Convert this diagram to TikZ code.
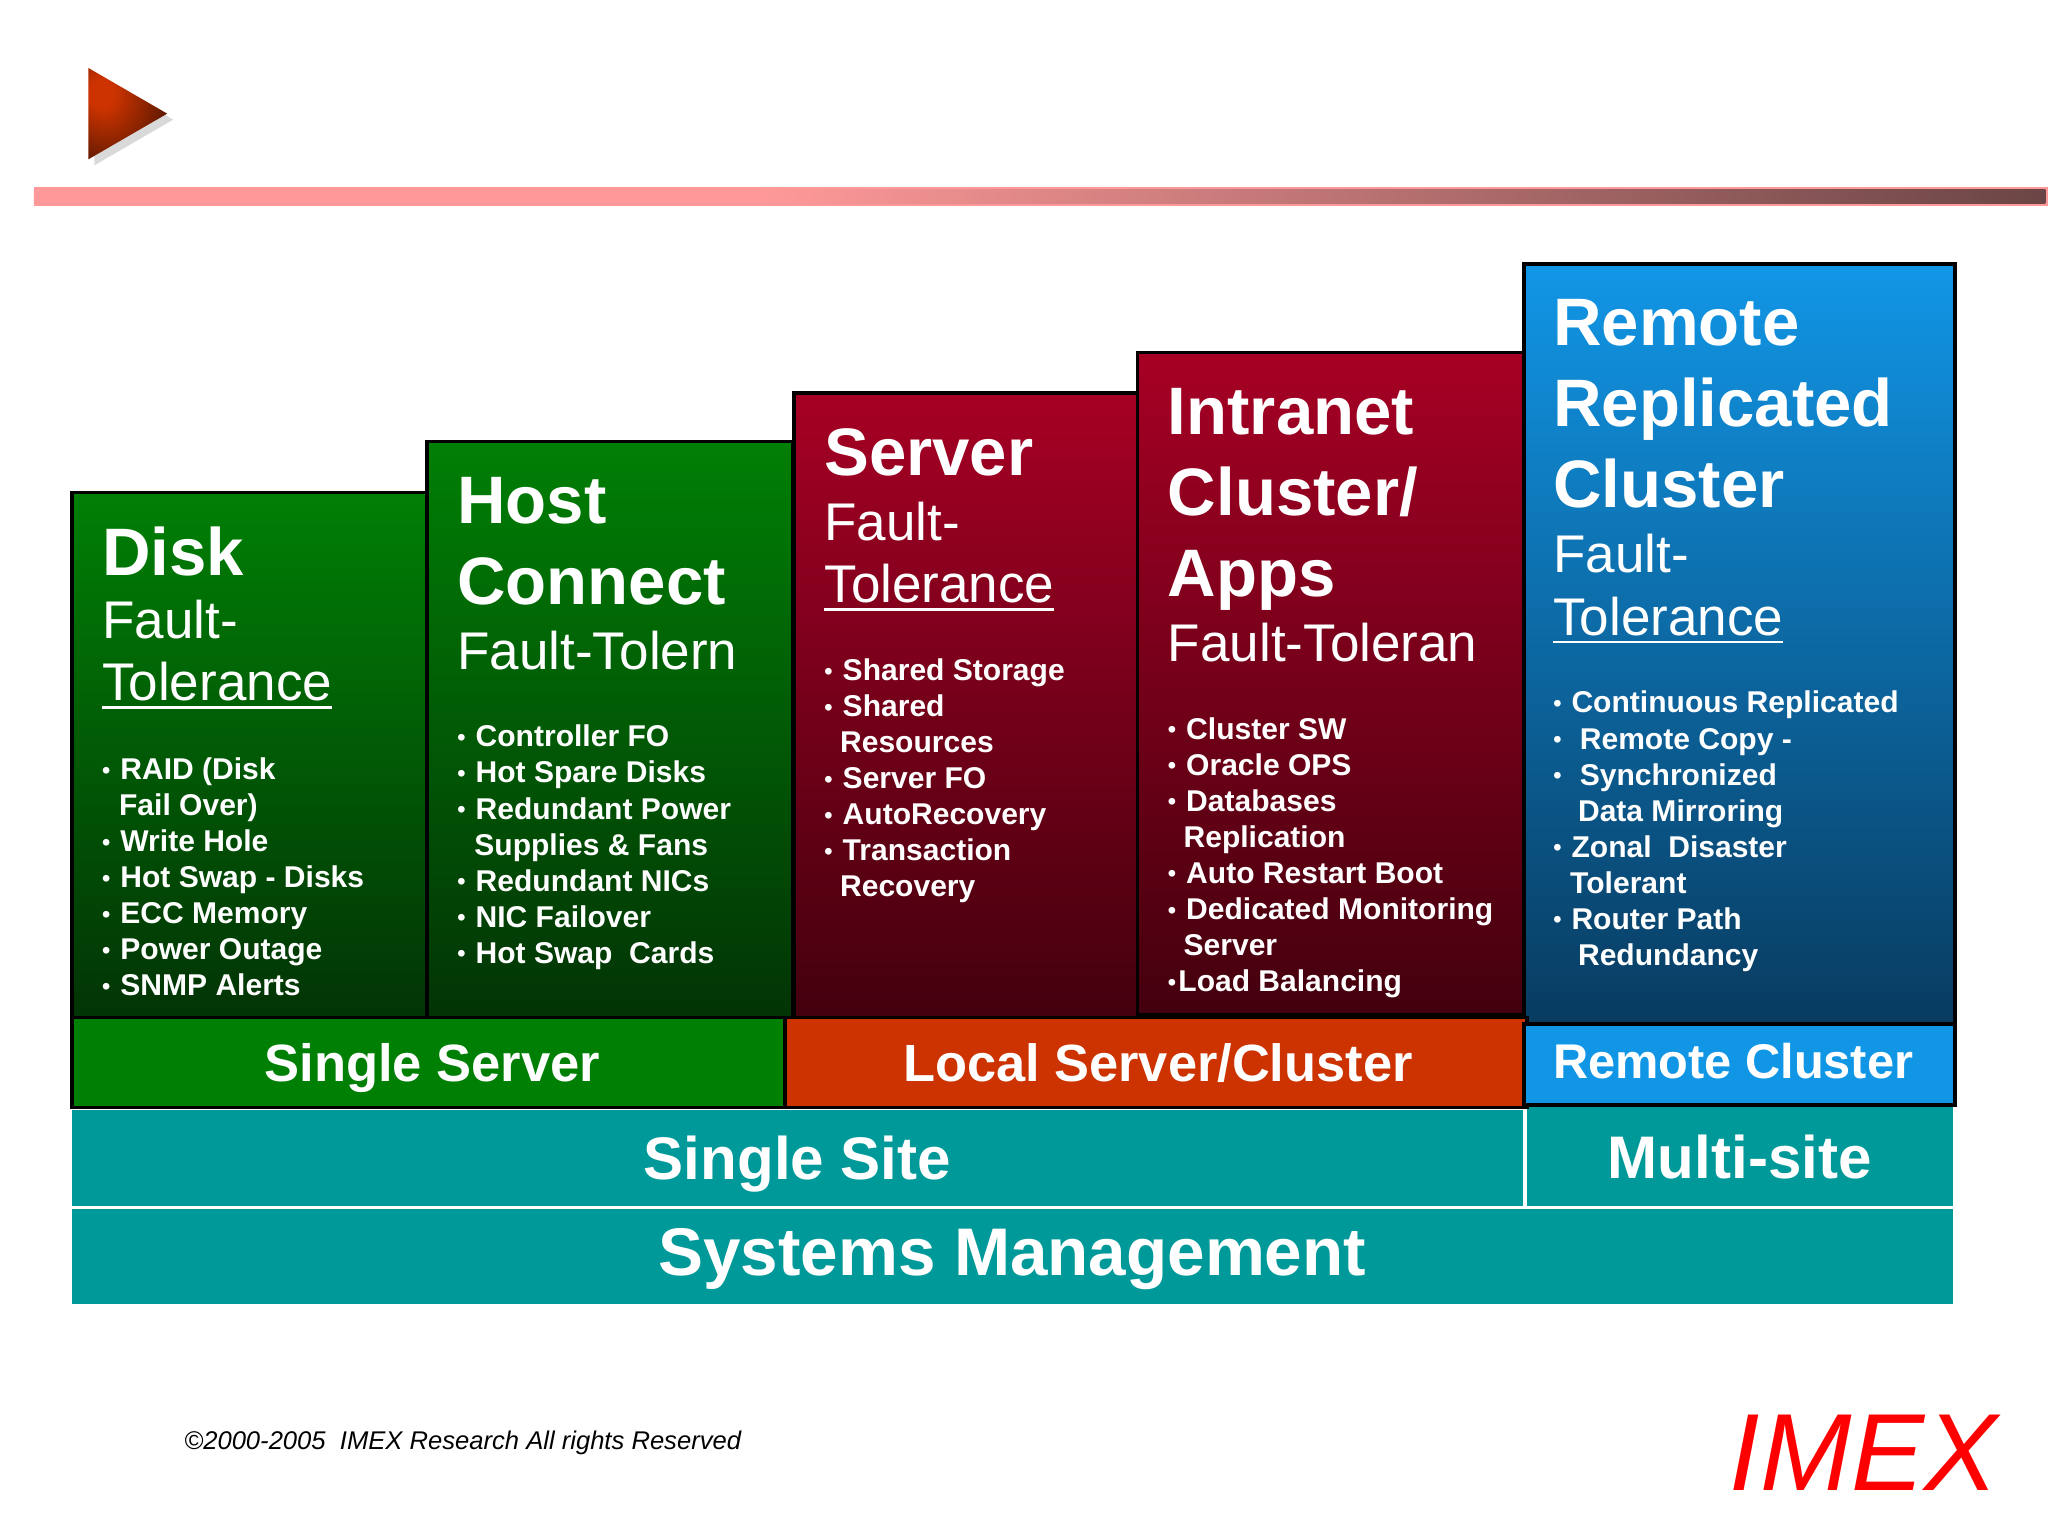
\documentclass[tikz,border=0pt]{standalone}
\usepackage{fontspec}
\setmainfont{Liberation Sans}
\usepackage{tikz}
\usetikzlibrary{positioning,calc}

\definecolor{greentop}{HTML}{007F05}
\definecolor{greenlow}{HTML}{023405}
\definecolor{redtop}{HTML}{A60024}
\definecolor{redlow}{HTML}{43000E}
\definecolor{bluetop}{HTML}{1196E6}
\definecolor{bluelow}{HTML}{083B60}
\definecolor{orangeband}{HTML}{CC3300}
\definecolor{tealband}{HTML}{009999}
\definecolor{barpink}{HTML}{FF9999}
\definecolor{bardark}{HTML}{6B4545}
\definecolor{arrowhi}{HTML}{CC3300}
\definecolor{arrowlo}{HTML}{5A1800}

\pgfdeclarehorizontalshading{barshade}{100bp}{color(0bp)=(barpink);color(25bp)=(barpink);color(43bp)=(barpink);color(75bp)=(bardark);color(100bp)=(bardark)}
\pgfdeclareradialshading{arrowglow}{\pgfpoint{-18bp}{12bp}}{color(0bp)=(arrowhi);color(8bp)=(arrowhi);color(38bp)=(arrowlo);color(100bp)=(arrowlo)}

\newcommand{\blt}{\raisebox{1pt}{\fontsize{18}{18}\selectfont\textbullet}}
\newcommand{\bul}{\makebox[14pt][l]{\blt}}
\newcommand{\rul}[1]{\setbox0=\hbox{#1}\rlap{\rule[-6pt]{\wd0}{2pt}}\box0}

\begin{document}
\begin{tikzpicture}[x=1pt,y=-1pt,
		tier/.style={draw=black,line width=2.8pt,inner sep=0pt,outer sep=0pt,anchor=north west},
		greentier/.style={tier,top color=greentop,bottom color=greenlow},
		redtier/.style={tier,top color=redtop,bottom color=redlow},
		bluetier/.style={tier,top color=bluetop,bottom color=bluelow},
		bandtxt/.style={text=white,inner sep=0pt,outer sep=0pt,anchor=north west,
			font=\fontsize{#1}{#1}\bfseries\selectfont,text height={#1pt*0.72},text depth=0pt},
		band/.style={bandtxt=#1,draw=black,line width=2.8pt},
		teal/.style={bandtxt=#1,fill=tealband},
		title/.style={text=white,inner sep=0pt,anchor=north west,align=left,
			font=\fontsize{51.4}{62}\bfseries\selectfont},
		sub/.style={text=white,inner sep=0pt,anchor=north west,align=left,
			font=\fontsize{40.6}{48}\selectfont},
		items/.style={text=white,inner sep=0pt,anchor=north west,align=left,
			font=\fontsize{23}{27.6}\bfseries\selectfont}]
	\useasboundingbox (0,0) rectangle (1568,1176);
	% header
	\fill [black!15] (72.2,56.6) -- (132.6,91.6) -- (72.2,126.6) -- cycle;
	\shade [shading=arrowglow] (67.6,52) -- (128,87) -- (67.6,122) -- cycle;
	\fill [barpink] (26,143) rectangle (1568,158);
	\shade [shading=barshade] (26,145) rectangle (1566,156);
	% columns
	\path (55,377)   node (disk)   [greentier,minimum width=272pt,minimum height=402pt] {}
	      (327,338)  node (host)   [greentier,minimum width=280pt,minimum height=441pt] {}
	      (608,301)  node (server) [redtier,minimum width=263pt,minimum height=478pt] {}
	      (871,270)  node (intra)  [redtier,minimum width=296pt,minimum height=507pt] {}
	      (1167,202) node (remote) [bluetier,minimum width=330pt,minimum height=582pt] {};
	% bottom bands
	\path (55,850)   node (sitea)  [teal=46,minimum width=1111pt,minimum height=73pt] {Single Site}
	      (1169,846) node (siteb)  [teal=46,text height=36pt,minimum width=326pt,minimum height=77pt] {Multi-site}
	      (55,926)   node (sysm)   [teal=51.6,text depth=8pt,minimum width=1440pt,minimum height=72pt] {Systems Management}
	      (55,779)   node (single) [band=40.2,fill=greentop,minimum width=546pt,minimum height=69pt] {\hspace{6pt}Single Server}
	      (601,779)  node (local)  [band=40.1,fill=orangeband,minimum width=568pt,minimum height=69pt] {\hspace{3pt}Local Server/Cluster}
	      (1167,784) node (rclus)  [band=37.3,fill=bluetop,text depth=6pt,minimum width=330pt,minimum height=62pt] {\hspace{-10pt}Remote Cluster};
	% column texts
	\path (78,403) node (disktitle) [title] {Disk}
	      (78,459) node (disksub)   [sub] {Fault-\\\rul{Tolerance}}
	      (78,580) node (disklist)  [items] {\bul RAID (Disk\\\hspace{13pt}Fail Over)\\\bul Write Hole\\\bul Hot Swap - Disks\\\bul ECC Memory\\\bul Power Outage\\\bul SNMP Alerts};
	\path (350,365) node (hosttitle) [title] {Host\\Connect}
	      (350,483) node (hostsub)   [sub] {Fault-Tolern}
	      (350,555) node (hostlist)  [items] {\bul Controller FO\\\bul Hot Spare Disks\\\bul Redundant Power\\\hspace{13pt}Supplies \& Fans\\\bul Redundant NICs\\\bul NIC Failover\\\bul Hot Swap\ \ Cards};
	\path (631,328) node (servertitle) [title] {Server}
	      (631,384) node (serversub)   [sub] {Fault-\\\rul{Tolerance}}
	      (631,504) node (serverlist)  [items] {\bul Shared Storage\\\bul Shared\\\hspace{12pt}Resources\\\bul Server FO\\\bul AutoRecovery\\\bul Transaction\\\hspace{12pt}Recovery};
	\path (894,297) node (intratitle) [title] {Intranet\\Cluster/\\Apps}
	      (894,477) node (intrasub)   [sub] {Fault-Toleran}
	      (894,549) node (intralist)  [items] {\bul Cluster SW\\\bul Oracle OPS\\\bul Databases\\\hspace{12pt}Replication\\\bul Auto Restart Boot\\\bul Dedicated Monitoring\\\hspace{12pt}Server\\\makebox[8pt][l]{\blt}Load Balancing};
	\path (1189,229) node (remotetitle) [title] {Remote\\Replicated\\Cluster}
	      (1189,409) node (remotesub)   [sub] {Fault-\\\rul{Tolerance}}
	      (1189,529) node (remotelist)  [items] {\bul Continuous Replicated\\\bul\ Remote Copy -\\\bul\ Synchronized\\\hspace{19pt}Data Mirroring\\\bul Zonal\ \ Disaster\\\hspace{13pt}Tolerant\\\bul Router Path\\\hspace{19pt}Redundancy};
	% footer
	\path (141,1110) node (rights) [anchor=base west,inner sep=0pt,font=\fontsize{19.6}{24}\itshape\selectfont] {©2000-2005\ \ IMEX Research All rights Reserved}
	      (1324,1141) node (logo) [anchor=base west,inner sep=0pt,text=red,font=\fontsize{84}{84}\itshape\selectfont] {IMEX};
\end{tikzpicture}
\end{document}
